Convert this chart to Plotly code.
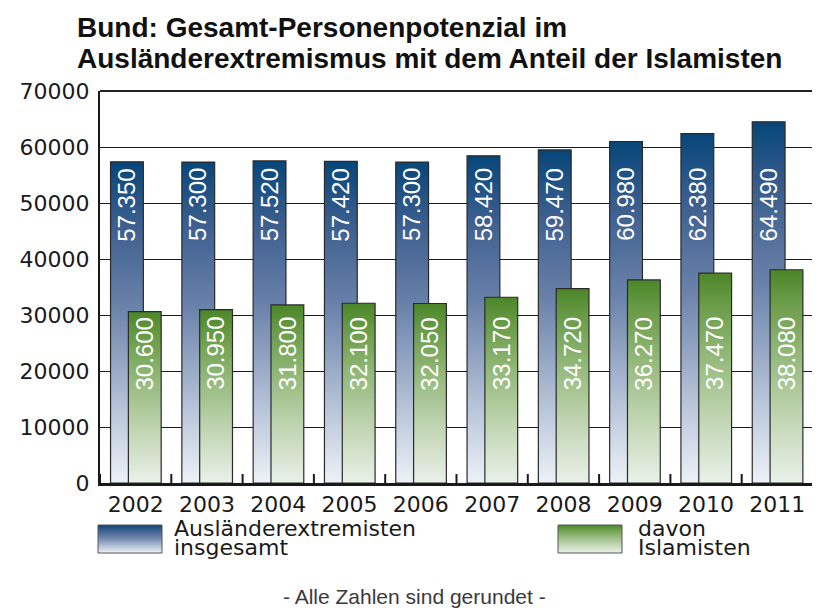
import plotly.graph_objects as go

# ---------------- data ----------------
years = ["2002", "2003", "2004", "2005", "2006", "2007", "2008", "2009", "2010", "2011"]
total = [57350, 57300, 57520, 57420, 57300, 58420, 59470, 60980, 62380, 64490]
islam = [30600, 30950, 31800, 32100, 32050, 33170, 34720, 36270, 37470, 38080]
y_ticks = [0, 10000, 20000, 30000, 40000, 50000, 60000, 70000]
series_names = [["Ausländerextremisten", "insgesamt"], ["davon", "Islamisten"]]
title_lines = ["Bund: Gesamt-Personenpotenzial im",
               "Ausländerextremismus mit dem Anteil der Islamisten"]
footnote = "- Alle Zahlen sind gerundet -"

# ---------------- style ----------------
# The page body has an 8px margin, so the figure is drawn 8px smaller and
# all positions below are given in window pixels and shifted by OX/OY.
OX, OY = 8, 8
W, H = 820 - OX, 613 - OY
PL, PR, PT, PB = 100 - OX, 813 - OX, 91 - OY, 483 - OY     # plot area in figure px
PW, PH = PR - PL, PB - PT
BLUE_SCALE = [[0, "#edf2f7"], [0.25, "#b3c0d6"], [0.55, "#6a82aa"], [0.8, "#3d5f8f"], [1, "#064679"]]
GREEN_SCALE = [[0, "#eaf1ea"], [0.3, "#c2d6b4"], [0.6, "#94b97b"], [0.85, "#6a9c48"], [1, "#4b8628"]]
OUTLINE = "#2a2a2a"
BAR_W = 0.46
OFF_T, OFF_I = -0.122, 0.128
LABEL_Y_T, LABEL_Y_I = 42800, 16200        # label bottoms (fixed level in reference)


def px2x(px):  # window px -> paper x
    return (px - OX - PL) / PW


def px2y(py):  # window px -> paper y
    return (PB - (py - OY)) / PH


def hex2rgb(h):
    h = h.lstrip("#")
    return tuple(int(h[i:i + 2], 16) for i in (0, 2, 4))


def scale_color(scale, t):
    for (t0, c0), (t1, c1) in zip(scale[:-1], scale[1:]):
        if t0 <= t <= t1:
            f = 0 if t1 == t0 else (t - t0) / (t1 - t0)
            a, b = hex2rgb(c0), hex2rgb(c1)
            return "rgb(%d,%d,%d)" % tuple(round(a[k] + (b[k] - a[k]) * f) for k in range(3))
    return scale[-1][1]


fig = go.Figure()


def add_bar(xc, v, scale):
    l, r = xc - BAR_W / 2, xc + BAR_W / 2
    fig.add_trace(go.Scatter(
        x=[l, l, r, r, l], y=[0, v, v, 0, 0], mode="lines", fill="toself",
        fillgradient=dict(type="vertical", colorscale=scale),
        line=dict(color=OUTLINE, width=1.2), showlegend=False, hoverinfo="skip"))


for i, v in enumerate(total):
    add_bar(i + OFF_T, v, BLUE_SCALE)
for i, v in enumerate(islam):
    add_bar(i + OFF_I, v, GREEN_SCALE)


def fmt(v):
    return f"{v:,}".replace(",", ".")


annotations = []
for i, (t, s) in enumerate(zip(total, islam)):
    annotations.append(dict(x=i + OFF_T, y=LABEL_Y_T, xref="x", yref="y", text=fmt(t),
                            textangle=-90, showarrow=False, xanchor="center", yanchor="bottom",
                            font=dict(family="Liberation Sans", size=24, color="white")))
    annotations.append(dict(x=i + OFF_I, y=LABEL_Y_I, xref="x", yref="y", text=fmt(s),
                            textangle=-90, showarrow=False, xanchor="center", yanchor="bottom",
                            font=dict(family="Liberation Sans", size=24, color="white")))

# title
for k, line in enumerate(title_lines):
    annotations.append(dict(x=px2x(75), y=px2y(28 + 30 * k), xref="paper", yref="paper",
                            text="<b>%s</b>" % line, showarrow=False, xanchor="left", yanchor="middle",
                            font=dict(family="Liberation Sans", size=28, color="#111111")))

shapes = [
    # outer frame
    dict(type="rect", xref="paper", yref="paper", x0=px2x(5), x1=px2x(819), y0=px2y(640), y1=px2y(6),
         fillcolor="white", line=dict(color="#8cb86d", width=2), layer="below"),
    # top border of plot area
    dict(type="line", xref="paper", yref="paper", x0=0, x1=1, y0=1, y1=1,
         line=dict(color="#222222", width=2)),
]

# small upward tick marks at the category boundaries on the x axis
for k in range(len(years) + 1):
    shapes.append(dict(type="line", xref="x", yref="y domain", x0=k - 0.5, x1=k - 0.5,
                       y0=0, y1=9 / PH, line=dict(color="#1a1a1a", width=2)))

# legend (custom): gradient swatch made of thin stripes + two-line label
legend_items = [(98, 162, 172, BLUE_SCALE), (558, 622, 636, GREEN_SCALE)]
SW_T, SW_B = 525, 553
for (x0, x1, tx, scale), names in zip(legend_items, series_names):
    n = SW_B - SW_T
    for k in range(n):
        t = 1 - (k + 0.5) / n
        shapes.append(dict(type="rect", xref="paper", yref="paper", x0=px2x(x0), x1=px2x(x1),
                           y0=px2y(SW_T + k + 1), y1=px2y(SW_T + k), fillcolor=scale_color(scale, t),
                           line=dict(width=0)))
    shapes.append(dict(type="rect", xref="paper", yref="paper", x0=px2x(x0), x1=px2x(x1),
                       y0=px2y(SW_B), y1=px2y(SW_T), line=dict(color="#555555", width=1)))
    annotations.append(dict(x=px2x(tx), y=px2y(528), xref="paper", yref="paper", text=names[0],
                            showarrow=False, xanchor="left", yanchor="middle",
                            font=dict(family="DejaVu Sans", size=22, color="#1a1a1a")))
    annotations.append(dict(x=px2x(tx), y=px2y(547), xref="paper", yref="paper", text=names[1],
                            showarrow=False, xanchor="left", yanchor="middle",
                            font=dict(family="DejaVu Sans", size=22, color="#1a1a1a")))

annotations.append(dict(x=px2x(414), y=px2y(596), xref="paper", yref="paper", text=footnote,
                        showarrow=False, xanchor="center", yanchor="middle",
                        font=dict(family="Liberation Sans", size=21, color="#3a3a3a")))

fig.update_layout(
    width=W, height=H, autosize=False,
    margin=dict(l=PL, r=W - PR, t=PT, b=H - PB, pad=0),
    paper_bgcolor="#e9e9e9", plot_bgcolor="white",
    showlegend=False,
    xaxis=dict(range=[-0.5, len(years) - 0.5],
               tickmode="array", tickvals=list(range(len(years))), ticktext=years,
               ticks="", showgrid=False, zeroline=False,
               showline=True, linecolor="#1a1a1a", linewidth=3,
               tickfont=dict(family="DejaVu Sans", size=22, color="#1a1a1a"),
               fixedrange=True),
    yaxis=dict(range=[0, 70000],
               tickmode="array", tickvals=y_ticks, tickformat="d",
               ticks="", showgrid=True, gridcolor="#1a1a1a", gridwidth=1,
               zeroline=False, showline=True, linecolor="#1a1a1a", linewidth=2,
               tickfont=dict(family="DejaVu Sans", size=22, color="#1a1a1a"),
               ticklabelstandoff=4, fixedrange=True),
    annotations=annotations,
    shapes=shapes,
)

fig.write_html("out.html")
